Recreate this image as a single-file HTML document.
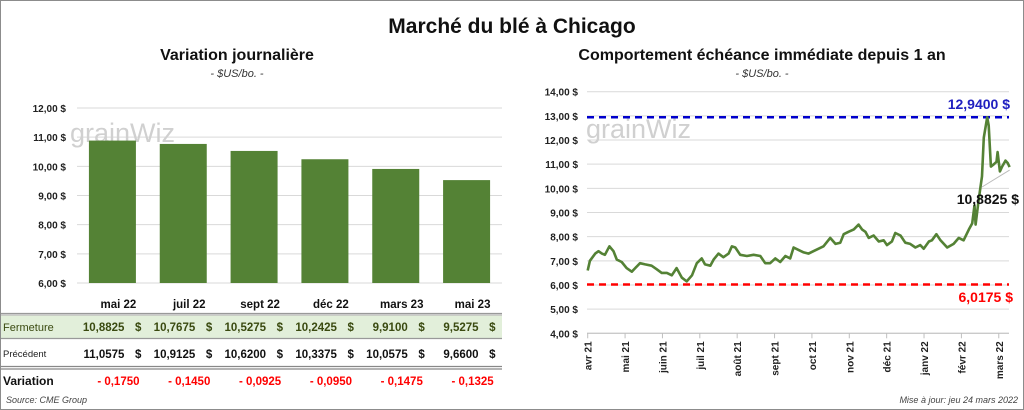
<!DOCTYPE html>
<html><head><meta charset="utf-8">
<style>
html,body{margin:0;padding:0;background:#fff;}
svg{display:block;font-family:"Liberation Sans",sans-serif;}
</style></head>
<body>
<svg id="page" width="1024" height="410" viewBox="0 0 1024 410">
  <rect x="0.5" y="0.5" width="1023" height="409" fill="#fff" stroke="#8c8c8c"/>
  <text x="512" y="33" text-anchor="middle" font-size="21" font-weight="bold" fill="#111">Marché du blé à Chicago</text>

  <text x="237" y="60" text-anchor="middle" font-size="16" font-weight="bold" fill="#111">Variation  journalière</text>
  <text x="237" y="77" text-anchor="middle" font-size="11" font-style="italic" fill="#333">- $US/bo. -</text>
  <text x="762" y="60" text-anchor="middle" font-size="16" font-weight="bold" fill="#111">Comportement  échéance immédiate depuis 1 an</text>
  <text x="762" y="77" text-anchor="middle" font-size="11" font-style="italic" fill="#333">- $US/bo. -</text>

  <g id="left"></g>
  <g id="table"></g>
  <g id="right"></g>

  <text x="6" y="403" font-size="9" font-style="italic" fill="#444">Source: CME Group</text>
  <text x="1018" y="403" text-anchor="end" font-size="9" font-style="italic" fill="#444">Mise à jour: jeu 24 mars 2022</text>
</svg>
<script>
const NS="http://www.w3.org/2000/svg";
const barCategories=["mai 22","juil 22","sept 22","déc 22","mars 23","mai 23"];
const closeValues=[10.8825,10.7675,10.5275,10.2425,9.9100,9.5275];
const prevValues=[11.0575,10.9125,10.6200,10.3375,10.0575,9.6600];
const closeLabels=["10,8825","10,7675","10,5275","10,2425","9,9100","9,5275"];
const prevLabels=["11,0575","10,9125","10,6200","10,3375","10,0575","9,6600"];
const varLabels=["- 0,1750","- 0,1450","- 0,0925","- 0,0950","- 0,1475","- 0,1325"];
const barTicks=[6,7,8,9,10,11,12];
const barTickLabels=["6,00 $","7,00 $","8,00 $","9,00 $","10,00 $","11,00 $","12,00 $"];

const lineMonths=[0,.06,.20,.29,.38,.46,.58,.69,.78,.91,1.04,1.18,1.27,1.40,1.54,1.71,1.85,1.98,2.12,2.25,2.38,2.52,2.65,2.79,2.92,3.05,3.14,3.28,3.37,3.50,3.63,3.77,3.86,3.95,4.08,4.26,4.44,4.62,4.75,4.88,5.02,5.15,5.29,5.42,5.51,5.64,5.78,5.91,6.04,6.18,6.31,6.49,6.63,6.76,6.85,6.98,7.12,7.25,7.34,7.43,7.52,7.65,7.79,7.92,8.01,8.14,8.23,8.37,8.50,8.63,8.77,8.90,8.99,9.13,9.21,9.33,9.44,9.62,9.79,9.93,10.06,10.20,10.29,10.35,10.38,10.46,10.55,10.60,10.69,10.73,10.79,10.87,10.94,10.97,11.03,11.09,11.18,11.24,11.29];
const linePrices=[6.6,7.0,7.3,7.4,7.3,7.25,7.6,7.4,7.05,6.95,6.7,6.55,6.7,6.9,6.85,6.8,6.65,6.5,6.5,6.4,6.7,6.3,6.15,6.4,6.9,7.1,6.85,6.8,7.05,7.3,7.15,7.3,7.6,7.55,7.25,7.2,7.25,7.2,6.9,6.9,7.1,6.95,7.2,7.1,7.55,7.45,7.35,7.3,7.4,7.5,7.6,7.95,7.7,7.75,8.1,8.2,8.3,8.5,8.3,8.2,7.95,8.05,7.8,7.85,7.65,7.8,8.15,8.05,7.75,7.7,7.55,7.65,7.5,7.8,7.85,8.1,7.85,7.55,7.7,7.95,7.85,8.3,8.55,9.3,8.5,9.5,10.5,12.1,12.94,12.6,10.9,11.0,11.1,11.5,10.7,10.9,11.15,11.05,10.88];
const monthLabels=["avr 21","mai 21","juin 21","juil 21","août 21","sept 21","oct 21","nov 21","déc 21","janv 22","févr 22","mars 22"];
const lineTicks=[4,5,6,7,8,9,10,11,12,13,14];
const lineTickLabels=["4,00 $","5,00 $","6,00 $","7,00 $","8,00 $","9,00 $","10,00 $","11,00 $","12,00 $","13,00 $","14,00 $"];
const highValue=12.94, lowValue=6.0175, lastValue=10.8825;
const highLabel="12,9400 $", lowLabel="6,0175 $", lastLabel="10,8825 $";

function mk(tag,attrs,parent,text){const e=document.createElementNS(NS,tag);for(const k in attrs)e.setAttribute(k,attrs[k]);if(text!==undefined)e.textContent=text;parent.appendChild(e);return e;}

// Left bar chart
const L=document.getElementById('left');
const bx0=77,bx1=502,by=v=>283-(v-6)*29.17;
const band=(bx1-bx0)/barCategories.length;
barTicks.forEach((t,i)=>{
  const g=mk('line',{x1:bx0,x2:bx1,y1:by(t),y2:by(t),stroke:'#d9d9d9','stroke-width':1},L);
  
  
  const tx=mk('text',{x:66,y:by(t)+4,'text-anchor':'end','font-size':10,'font-weight':'bold',fill:'#222'},L,barTickLabels[i]);
  
  
});
const wm1=mk('text',{x:70,y:142,'font-size':27,fill:'#d0d0d0'},L,'grainWiz');


closeValues.forEach((v,i)=>{
  const x=bx0+band*i+(band-47)/2;
  const r=mk('rect',{x:x,y:by(v),width:47,height:by(6)-by(v),fill:'#548235'},L);
  
  
});

// Table
const T=document.getElementById('table');
const colC=i=>bx0+band*i+band/2;
mk('rect',{x:1,y:315,width:501,height:23,fill:'#e2efda'},T);
[[313.5,'#999'],[315,'#bbb'],[338.5,'#999'],[366.5,'#888'],[369,'#888']].forEach(([y,c])=>{
  const l=mk('line',{x1:1,x2:502,y1:y,y2:y,stroke:c,'stroke-width':1.2},T);
  
  
});
barCategories.forEach((c,i)=>{
  const h=mk('text',{x:colC(i)+6,y:308,'text-anchor':'middle','font-size':11.5,'font-weight':'bold',fill:'#111'},T,c);
  
  
  const a=mk('text',{x:colC(i)+12,y:331,'text-anchor':'end','font-size':11.5,'font-weight':'bold',fill:'#3a4a10'},T,closeLabels[i]);
  
  
  const a2=mk('text',{x:colC(i)+29,y:331,'text-anchor':'end','font-size':11.5,'font-weight':'bold',fill:'#3a4a10'},T,'$');
  
  
  const b=mk('text',{x:colC(i)+12,y:358,'text-anchor':'end','font-size':11.5,'font-weight':'bold',fill:'#111'},T,prevLabels[i]);
  
  
  const b2=mk('text',{x:colC(i)+29,y:358,'text-anchor':'end','font-size':11.5,'font-weight':'bold',fill:'#111'},T,'$');
  
  
  const d=mk('text',{x:colC(i)+6,y:385,'text-anchor':'middle','font-size':11.5,'font-weight':'bold',fill:'#ff0000'},T,varLabels[i]);
  
  
});
const r1=mk('text',{x:3,y:331,'font-size':11,fill:'#3a4a10'},T,'Fermeture');


const r2=mk('text',{x:3,y:357,'font-size':9.5,fill:'#222'},T,'Précédent');


const r3=mk('text',{x:3,y:385,'font-size':12,'font-weight':'bold',fill:'#111'},T,'Variation');



// Right line chart
const R=document.getElementById('right');
const lx=m=>587.7+m*37.37, ly=v=>333.3-(v-4)*24.16;
lineTicks.forEach((t,i)=>{
  const g=mk('line',{x1:587,x2:1009,y1:ly(t),y2:ly(t),stroke:'#d9d9d9','stroke-width':1},R);
  
  
  const tx=mk('text',{x:578,y:ly(t)+4,'text-anchor':'end','font-size':10,'font-weight':'bold',fill:'#222'},R,lineTickLabels[i]);
  
  
});
const ax=mk('line',{x1:587,x2:1009,y1:ly(4),y2:ly(4),stroke:'#bfbfbf'},R);


monthLabels.forEach((m,i)=>{
  const x=lx(i);
  const tk=mk('line',{x1:x,x2:x,y1:ly(4),y2:ly(4)+5,stroke:'#bfbfbf'},R);
  
  
  const t=mk('text',{x:x+4,y:ly(4)+8,'text-anchor':'end','font-size':10,'font-weight':'bold',fill:'#222',transform:`rotate(-90 ${x+4} ${ly(4)+8})`},R,m);
  
  
});
const wm2=mk('text',{x:586,y:138,'font-size':27,fill:'#d0d0d0'},R,'grainWiz');


const hl=mk('line',{x1:587,x2:1009,y1:ly(highValue),y2:ly(highValue),stroke:'#0000cc','stroke-width':2.5,'stroke-dasharray':'7,5'},R);


const ll=mk('line',{x1:587,x2:1009,y1:ly(lowValue),y2:ly(lowValue),stroke:'#ff0000','stroke-width':2.5,'stroke-dasharray':'7,5'},R);


const pts=lineMonths.map((m,i)=>lx(m).toFixed(1)+','+ly(linePrices[i]).toFixed(1)).join(' ');
const pl=mk('polyline',{points:pts,fill:'none',stroke:'#548235','stroke-width':2.6,'stroke-linejoin':'round'},R);


const lastX=lx(lineMonths[lineMonths.length-1]);
const lead=mk('line',{x1:982,y1:187,x2:lastX,y2:ly(lastValue)+3,stroke:'#bbb','stroke-width':1},R);


const hlab=mk('text',{x:1010,y:109,'text-anchor':'end','font-size':14,'font-weight':'bold',fill:'#2020c0'},R,highLabel);


const llab=mk('text',{x:1013,y:302,'text-anchor':'end','font-size':14,'font-weight':'bold',fill:'#ff0000'},R,lowLabel);


const lab=mk('text',{x:1019,y:204,'text-anchor':'end','font-size':14,'font-weight':'bold',fill:'#111'},R,lastLabel);


</script>
</body></html>
